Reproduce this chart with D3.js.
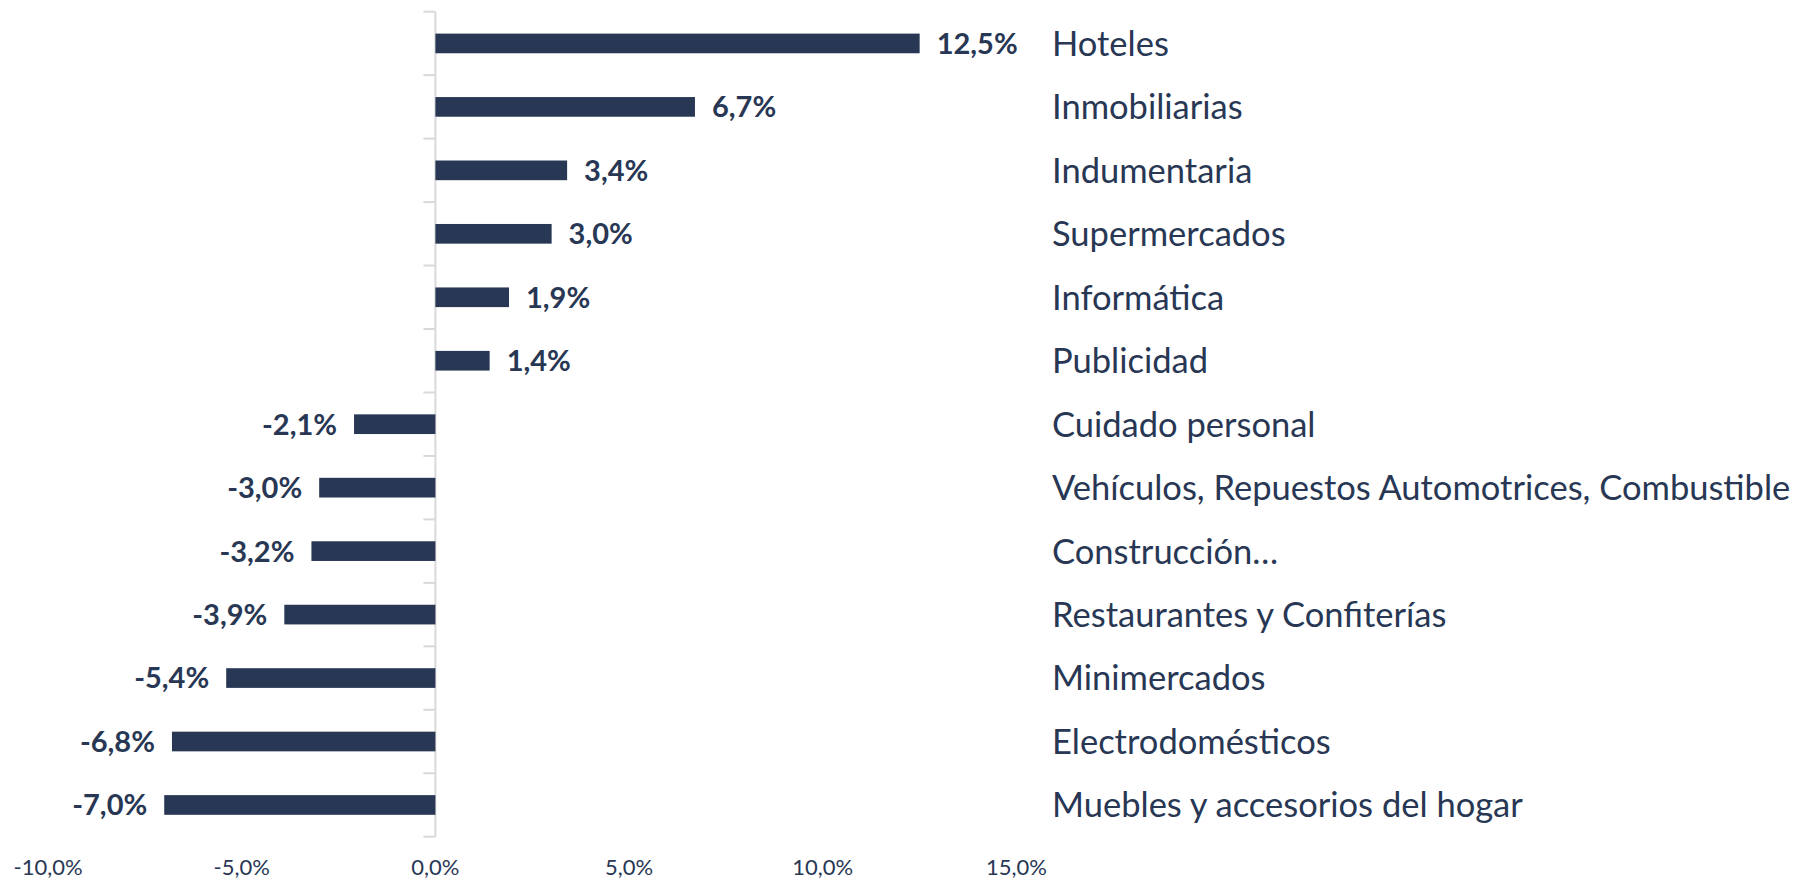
<!DOCTYPE html>
<html>
<head>
<meta charset="utf-8">
<script src="https://cdn.jsdelivr.net/npm/d3@7"></script>
<style>
    body { margin: 0; background: #fff; }
    svg { display: block; }
</style>
</head>
<body>
<div id="chart"></div>
<script>
// data
const categories = ['Hoteles', 'Inmobiliarias', 'Indumentaria', 'Supermercados', 'Informática', 'Publicidad',
    'Cuidado personal', 'Vehículos, Repuestos Automotrices, Combustible', 'Construcción…',
    'Restaurantes y Confiterías', 'Minimercados', 'Electrodomésticos', 'Muebles y accesorios del hogar'];
const values = [12.5, 6.7, 3.4, 3.0, 1.9, 1.4, -2.1, -3.0, -3.2, -3.9, -5.4, -6.8, -7.0];
const xTicks = [-10, -5, 0, 5, 10, 15];

const width = 1802;
const height = 879;
const navy = '#283754';
const grid = '#d9d9d9';
const font = 'Lato, "Open Sans", sans-serif';

const locale = d3.formatLocale({decimal: ',', thousands: '.', grouping: [3], currency: ['', ''], minus: '-'});
const fmt = (v) => locale.format('.1f')(v) + '%';

const svg = d3.select('#chart').append('svg')
    .attr('width', width)
    .attr('height', height);

const x = d3.scaleLinear()
    .domain([-10, 15])
    .range([48, 1016.5]);

const y = d3.scaleBand()
    .domain(categories)
    .range([11.7, 836.7])
    .paddingInner(0.69)
    .paddingOuter(0.345);

const rows = categories.map((c, i) => ({cat: c, val: values[i]}));

// vertical axis line at zero with ticks between categories
const y0 = y.range()[0];
const boundaries = d3.range(categories.length + 1).map((k) => y0 + k * y.step());
svg.append('line')
    .attr('x1', x(0)).attr('x2', x(0))
    .attr('y1', boundaries[0]).attr('y2', boundaries[boundaries.length - 1])
    .attr('stroke', grid)
    .attr('stroke-width', 2);
svg.selectAll('.ytick')
    .data(boundaries)
    .enter().append('line')
    .attr('class', 'ytick')
    .attr('x1', x(0) - 12).attr('x2', x(0))
    .attr('y1', (d) => d).attr('y2', (d) => d)
    .attr('stroke', grid)
    .attr('stroke-width', 2);

// bars
svg.selectAll('.bar')
    .data(rows)
    .enter().append('rect')
    .attr('class', 'bar')
    .attr('x', (d) => x(Math.min(0, d.val)))
    .attr('width', (d) => Math.abs(x(d.val) - x(0)))
    .attr('y', (d) => y(d.cat))
    .attr('height', y.bandwidth())
    .attr('fill', navy);

// value labels
svg.selectAll('.val')
    .data(rows)
    .enter().append('text')
    .attr('class', 'val')
    .attr('x', (d) => d.val >= 0 ? x(d.val) + 17 : x(d.val) - 17)
    .attr('y', (d) => y(d.cat) + y.bandwidth() / 2)
    .attr('dy', '0.36em')
    .attr('text-anchor', (d) => d.val >= 0 ? 'start' : 'end')
    .attr('font-family', font)
    .attr('font-weight', 'bold')
    .attr('font-size', 29)
    .attr('fill', navy)
    .text((d) => fmt(d.val));

// category labels on the right
svg.selectAll('.cat')
    .data(rows)
    .enter().append('text')
    .attr('class', 'cat')
    .attr('x', 1052)
    .attr('y', (d) => y(d.cat) + y.bandwidth() / 2)
    .attr('dy', '0.36em')
    .attr('font-family', font)
    .attr('font-size', 34.5)
    .attr('fill', navy)
    .text((d) => d.cat);

// x tick labels
svg.selectAll('.xlab')
    .data(xTicks)
    .enter().append('text')
    .attr('class', 'xlab')
    .attr('x', (d) => x(d))
    .attr('y', 867)
    .attr('dy', '0.36em')
    .attr('text-anchor', 'middle')
    .attr('font-family', font)
    .attr('font-size', 22)
    .attr('fill', navy)
    .text((d) => fmt(d));
</script>
</body>
</html>
